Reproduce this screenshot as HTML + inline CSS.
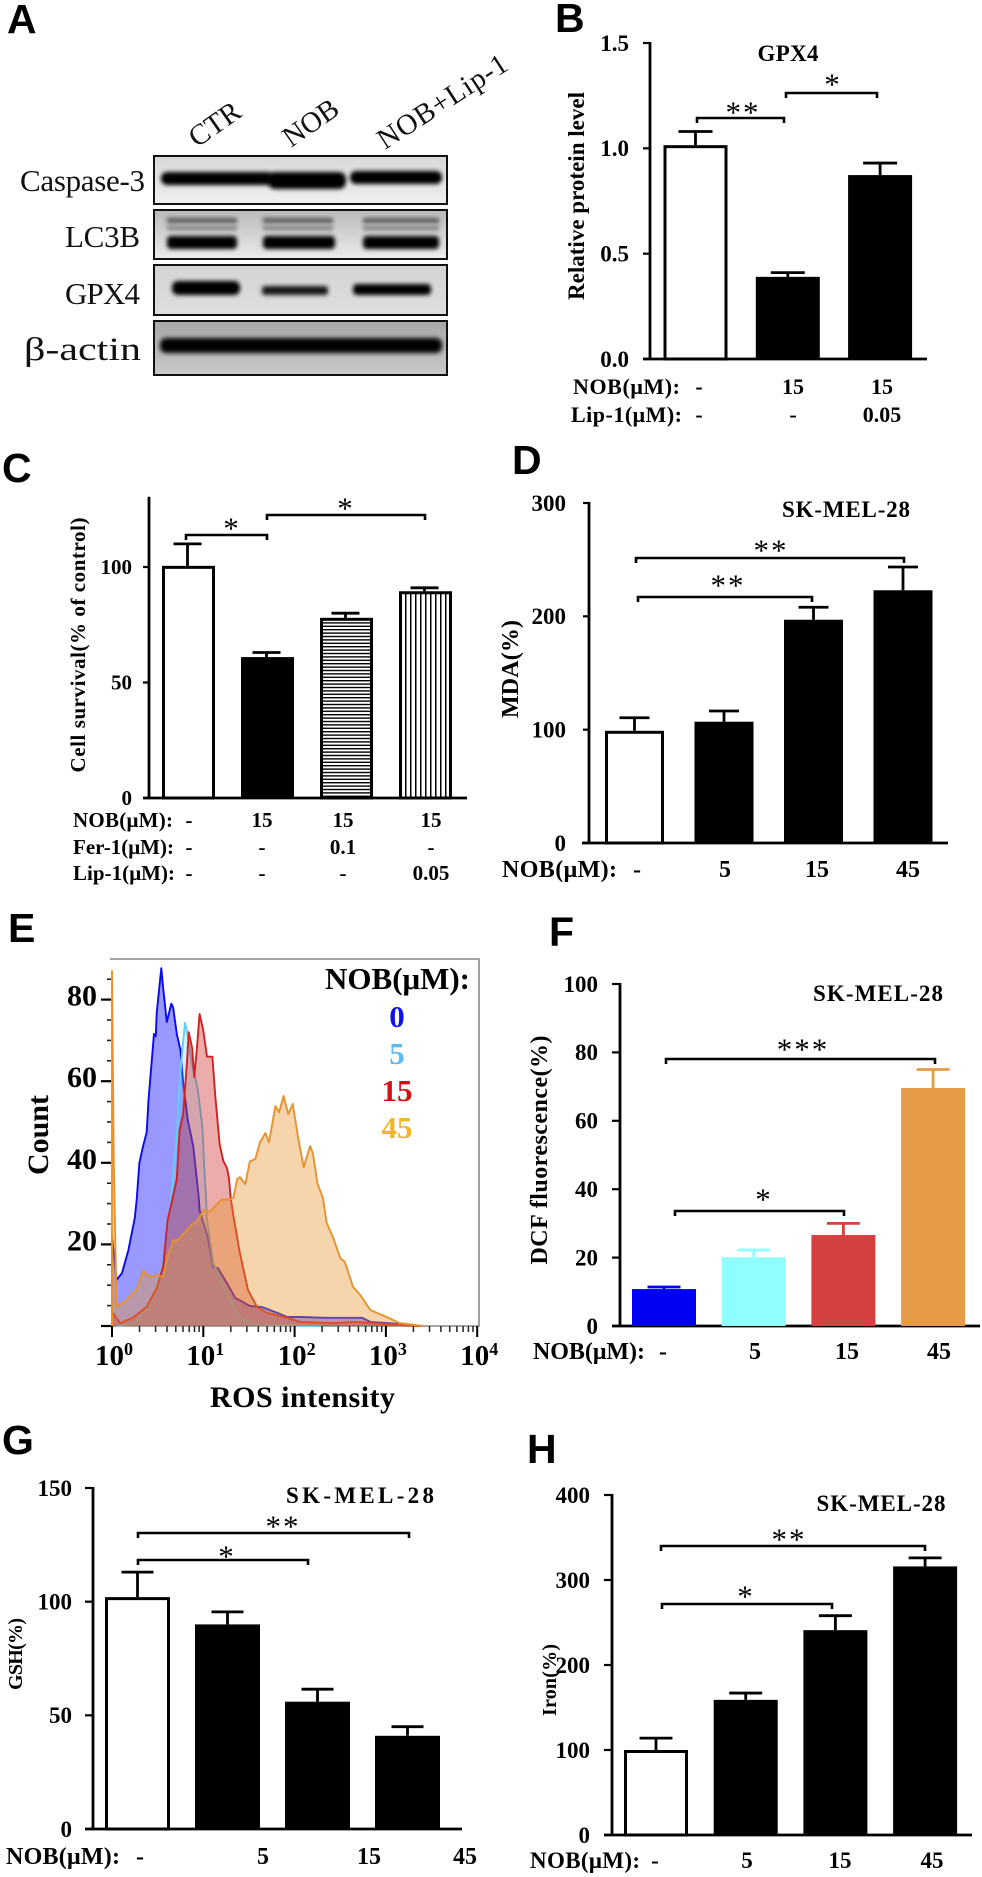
<!DOCTYPE html>
<html lang="en">
<head>
<meta charset="utf-8">
<title>NOB ferroptosis figure</title>
<style>
html,body{margin:0;padding:0;background:#fff}
svg{display:block;filter:blur(0.35px)}
text{font-family:"Liberation Serif","DejaVu Serif",serif;fill:#000;font-weight:bold}
.letter{font-family:"Liberation Sans","DejaVu Sans",sans-serif;font-size:41px;font-weight:bold}
.blot-label{font-weight:normal;font-size:31px;fill:#111}
.lane-label{font-weight:normal;font-size:29px;fill:#111}
</style>
</head>
<body>
<svg id="figure" xmlns="http://www.w3.org/2000/svg" width="982" height="1877" viewBox="0 0 982 1877">
<defs>
<filter id="blur-band" x="-20%" y="-100%" width="140%" height="300%"><feGaussianBlur stdDeviation="2.4"/></filter>
<filter id="blur-soft" x="-20%" y="-150%" width="140%" height="400%"><feGaussianBlur stdDeviation="2"/></filter>
<linearGradient id="blot1" x1="0" y1="0" x2="0" y2="1"><stop offset="0" stop-color="#d8d8d8"/><stop offset="1" stop-color="#efefef"/></linearGradient>
<linearGradient id="blot2" x1="0" y1="0" x2="0" y2="1"><stop offset="0" stop-color="#b9b9b9"/><stop offset="1" stop-color="#ececec"/></linearGradient>
<linearGradient id="blot3" x1="0" y1="0" x2="0" y2="1"><stop offset="0" stop-color="#d4d4d4"/><stop offset="1" stop-color="#dedede"/></linearGradient>
<linearGradient id="blot4" x1="0" y1="0" x2="0" y2="1"><stop offset="0" stop-color="#a8a8a8"/><stop offset="1" stop-color="#c9c9c9"/></linearGradient>
<pattern id="stripes-h" width="6" height="3.4" patternUnits="userSpaceOnUse"><rect width="6" height="3.4" fill="#fff"/><rect width="6" height="1.4" fill="#000"/></pattern>
<pattern id="stripes-v" width="5" height="6" patternUnits="userSpaceOnUse"><rect width="5" height="6" fill="#fff"/><rect width="1.5" height="6" fill="#000"/></pattern>
<clipPath id="flow-clip"><rect x="110" y="959" width="369" height="368"/></clipPath>
</defs>

<!-- Panel letters -->
<text class="letter" x="7" y="33">A</text>
<text class="letter" x="555" y="32">B</text>
<text class="letter" x="2" y="482">C</text>
<text class="letter" x="512" y="474">D</text>
<text class="letter" x="8" y="942">E</text>
<text class="letter" x="549" y="946">F</text>
<text class="letter" x="2" y="1454">G</text>
<text class="letter" x="527" y="1463">H</text>

<!-- Panel A western blot -->
<g id="panel-a">
<text class="lane-label" transform="translate(197 148) rotate(-35)">CTR</text>
<text class="lane-label" transform="translate(291 148) rotate(-35)">NOB</text>
<text class="lane-label" transform="translate(385 150) rotate(-33)" textLength="149" lengthAdjust="spacing">NOB+Lip-1</text>

<text class="blot-label" x="20" y="191" textLength="125" lengthAdjust="spacing">Caspase-3</text>
<text class="blot-label" x="65" y="247" textLength="75" lengthAdjust="spacing">LC3B</text>
<text class="blot-label" x="65" y="304" textLength="75" lengthAdjust="spacing">GPX4</text>
<text class="blot-label" x="24" y="360" style="font-size:33px" textLength="117" lengthAdjust="spacingAndGlyphs">β-actin</text>

<g>
<rect x="154" y="156" width="293" height="48" fill="url(#blot1)" stroke="#111" stroke-width="2"/>
<rect x="161" y="172" width="112" height="13" rx="6" fill="#000" filter="url(#blur-soft)"/>
<rect x="268" y="172" width="78" height="17" rx="7" fill="#000" filter="url(#blur-soft)"/>
<rect x="350" y="171" width="92" height="13" rx="6" fill="#000" filter="url(#blur-soft)"/>
</g>
<g>
<rect x="154" y="210" width="293" height="49" fill="url(#blot2)" stroke="#111" stroke-width="2"/>
<rect x="167" y="218" width="70" height="5" fill="#555" filter="url(#blur-soft)"/>
<rect x="263" y="218" width="70" height="5" fill="#555" filter="url(#blur-soft)"/>
<rect x="363" y="218" width="76" height="5" fill="#555" filter="url(#blur-soft)"/>
<rect x="167" y="226" width="70" height="4" fill="#777" filter="url(#blur-soft)"/>
<rect x="263" y="226" width="70" height="4" fill="#777" filter="url(#blur-soft)"/>
<rect x="363" y="226" width="76" height="4" fill="#777" filter="url(#blur-soft)"/>
<rect x="167" y="236" width="70" height="13" rx="4" fill="#000" filter="url(#blur-soft)"/>
<rect x="263" y="236" width="72" height="13" rx="4" fill="#000" filter="url(#blur-soft)"/>
<rect x="363" y="236" width="76" height="13" rx="4" fill="#000" filter="url(#blur-soft)"/>
</g>
<g>
<rect x="154" y="265" width="293" height="50" fill="url(#blot3)" stroke="#111" stroke-width="2"/>
<rect x="172" y="281" width="68" height="14" rx="6" fill="#000" filter="url(#blur-soft)"/>
<rect x="262" y="286" width="66" height="9" rx="3" fill="#141414" filter="url(#blur-soft)"/>
<rect x="353" y="284" width="78" height="11" rx="4" fill="#050505" filter="url(#blur-soft)"/>
</g>
<g>
<rect x="154" y="321" width="293" height="54" fill="url(#blot4)" stroke="#111" stroke-width="2"/>
<rect x="160" y="338" width="282" height="15" rx="6" fill="#000" filter="url(#blur-band)"/>
</g>
</g>

<!-- Static chart text -->
<text x="788" y="61" text-anchor="middle" font-size="23" textLength="61" lengthAdjust="spacing">GPX4</text>
<text transform="translate(584 196) rotate(-90)" text-anchor="middle" font-size="23" textLength="208" lengthAdjust="spacing">Relative protein level</text>

<text transform="translate(85 645) rotate(-90)" text-anchor="middle" font-size="21" textLength="255" lengthAdjust="spacing">Cell survival(% of control)</text>

<text x="846" y="517" text-anchor="middle" font-size="23" textLength="128" lengthAdjust="spacing">SK-MEL-28</text>
<text transform="translate(518 669) rotate(-90)" text-anchor="middle" font-size="24" textLength="98" lengthAdjust="spacing">MDA(%)</text>

<text x="878" y="1001" text-anchor="middle" font-size="23" textLength="130" lengthAdjust="spacing">SK-MEL-28</text>
<text transform="translate(547 1150) rotate(-90)" text-anchor="middle" font-size="24" textLength="229" lengthAdjust="spacing">DCF fluorescence(%)</text>

<text x="360" y="1503" text-anchor="middle" font-size="23" textLength="148" lengthAdjust="spacing">SK-MEL-28</text>
<text transform="translate(22 1654) rotate(-90)" text-anchor="middle" font-size="20" textLength="72" lengthAdjust="spacing">GSH(%)</text>

<text x="881" y="1511" text-anchor="middle" font-size="23" textLength="129" lengthAdjust="spacing">SK-MEL-28</text>
<text transform="translate(556 1680) rotate(-90)" text-anchor="middle" font-size="20" textLength="72" lengthAdjust="spacing">Iron(%)</text>

<!-- Panel E static -->
<text transform="translate(48 1135) rotate(-90)" text-anchor="middle" font-size="30" textLength="80" lengthAdjust="spacing">Count</text>
<text x="210" y="1407" font-size="30" textLength="185" lengthAdjust="spacing">ROS intensity</text>
<text x="325" y="989" font-size="31" textLength="145" lengthAdjust="spacing">NOB(μM):</text>
<text x="397" y="1027" text-anchor="middle" font-size="31" style="fill:#1010f0">0</text>
<text x="397" y="1064" text-anchor="middle" font-size="31" style="fill:#5fb8f0">5</text>
<text x="397" y="1101" text-anchor="middle" font-size="31" style="fill:#d40d12">15</text>
<text x="397" y="1138" text-anchor="middle" font-size="31" style="fill:#f0b52a">45</text>
</svg>

<script>
// ---- Chart B data ----
const bConcNob = ['-', '15', '15'];
const bConcLip = ['-', '-', '0.05'];
const bValues = [1.015, 0.39, 0.873];
const bErrors = [0.065, 0.02, 0.057];
const bTicks = [0, 0.5, 1, 1.5];
const bTickLabels = ['0.0', '0.5', '1.0', '1.5'];
// ---- Chart C data ----
const cConcNob = ['-', '15', '15', '15'];
const cConcFer = ['-', '-', '0.1', '-'];
const cConcLip = ['-', '-', '-', '0.05'];
const cValues = [100.5, 61, 78, 89.5];
const cErrors = [9.5, 2, 2, 1.5];
const cTicks = [0, 50, 100];
const cTickLabels = ['0', '50', '100'];
// ---- Chart D data ----
const dConcNob = ['-', '5', '15', '45'];
const dValues = [99, 107, 197, 223];
const dErrors = [11.5, 9.5, 11, 20.5];
const dTicks = [0, 100, 200, 300];
const dTickLabels = ['0', '100', '200', '300'];
// ---- Chart F data ----
const fConcNob = ['-', '5', '15', '45'];
const fValues = [10.8, 20.1, 26.6, 69.6];
const fErrors = [0.6, 2.1, 3.4, 5.4];
const fTicks = [0, 20, 40, 60, 80, 100];
const fTickLabels = ['0', '20', '40', '60', '80', '100'];
// ---- Chart G data ----
const gConcNob = ['-', '5', '15', '45'];
const gValues = [102, 90, 56, 41];
const gErrors = [11, 5.5, 5.5, 4];
const gTicks = [0, 50, 100, 150];
const gTickLabels = ['0', '50', '100', '150'];
// ---- Chart H data ----
const hConcNob = ['-', '5', '15', '45'];
const hValues = [100, 159, 241, 316];
const hErrors = [14, 8, 17, 10];
const hTicks = [0, 100, 200, 300, 400];
const hTickLabels = ['0', '100', '200', '300', '400'];
// ---- Chart E data (log10 intensity, count) ----
const eYTicks = [20, 40, 60, 80];
const eYTickLabels = ['20', '40', '60', '80'];
const eYMinorTicks = [5, 10, 15, 25, 30, 35, 45, 50, 55, 65, 70, 75, 85];
const eDecades = [0, 1, 2, 3, 4];
const eBlueLog = [0, .05, .11, .18, .25, .27, .30, .34, .38, .40, .45, .46, .48, .49, .54, .56, .60, .65, .67, .71, .75, .78, .83, .89, .95, .96, 1.05, 1.11, 1.16, 1.26, 1.35, 1.51, 1.65, 1.81, 1.92, 2.06, 2.35, 2.57, 2.74, 2.83, 3.15, 3.40];
const eBlueCount = [22, 11.3, 13, 18.6, 26.5, 31, 40, 44, 47.5, 55.4, 69, 71.6, 71, 76.7, 87.7, 83, 74.5, 79, 78, 71.6, 67.6, 59.5, 50.5, 44, 31.6, 28.4, 21.6, 14.4, 14.2, 10.5, 6.9, 4.9, 4.6, 3.2, 2.2, 2.2, 2, 2, 2, 1, 0.5, 0];
const eCyanLog = [.05, .23, .38, .49, .56, .64, .67, .71, .74, .77, .80, .82, .87, .91, .94, .99, 1.01, 1.03, 1.04, 1.11, 1.26, 1.40, 1.54, 1.70, 2.28];
const eCyanCount = [0, .5, 3.9, 9.6, 15.4, 30, 36.5, 46.3, 59.5, 67.6, 74.3, 72.5, 65.2, 61, 57.8, 48.8, 39, 31.4, 26, 15.4, 8, 2.2, .5, .2, 0];
const eRedLog = [0, .09, .23, .38, .49, .56, .61, .66, .71, .74, .78, .82, .84, .88, .90, .93, .96, 1.00, 1.04, 1.10, 1.13, 1.18, 1.22, 1.26, 1.28, 1.30, 1.33, 1.40, 1.49, 1.59, 1.70, 1.92, 2.06, 2.42, 2.68, 2.97, 3.37];
const eRedCount = [3.4, .7, 2, 4.7, 9.3, 14.5, 26, 31, 36, 48, 52, 64.5, 72, 68, 61, 68, 76.5, 72.4, 66, 66, 56.6, 44.4, 40.4, 38.7, 36.3, 31.4, 27, 18, 8.8, 4.6, 3.2, 2, 1, .7, 1, .5, 0];
const eOrangeLog = [0, .02, .05, .16, .23, .27, .34, .42, .49, .56, .61, .67, .72, .88, .93, 1.00, 1.07, 1.20, 1.29, 1.33, 1.37, 1.40, 1.46, 1.51, 1.57, 1.62, 1.68, 1.72, 1.79, 1.83, 1.88, 1.93, 1.98, 2.04, 2.10, 2.17, 2.20, 2.25, 2.31, 2.35, 2.42, 2.50, 2.55, 2.64, 2.72, 2.83, 3.01, 3.15, 3.40];
const eOrangeCount = [87, 40, 4.7, 6.4, 8.1, 8.8, 13.5, 12, 12.5, 12, 17, 21, 21, 25, 25.5, 28.4, 28, 31, 31, 31.4, 36, 36.5, 34.8, 40.4, 40.9, 45, 47.3, 45, 53.9, 52.4, 56.4, 51.9, 54.4, 45.8, 38.9, 44.1, 42.4, 35, 31.4, 25.3, 21.8, 16.7, 15.7, 9.6, 7.6, 3.9, 2.2, .7, 0];

const NS = 'http://www.w3.org/2000/svg';
const root = document.getElementById('figure');

function make(tag, attrs, parent) {
  const el = document.createElementNS(NS, tag);
  for (const k in attrs) el.setAttribute(k, attrs[k]);
  parent.appendChild(el);
  return el;
}
function makeGroup(name) {
  const el = make('g', {}, root);
  
  
  return el;
}
function drawAxes(g, o, yScale, ticks, labels) {
  const line = make('path', {d: 'M' + o.axisX + ' ' + (yScale(o.max) - 1) + 'V' + (o.y0 + 1) + 'M' + o.axisLeft + ' ' + o.y0 + 'H' + o.axisRight, stroke: '#000', 'stroke-width': 2.8, fill: 'none'}, g);
  
  
  ticks.forEach(function (t, i) {
    const y = yScale(t);
    const tick = make('path', {d: 'M' + o.tickLeft + ' ' + y + 'H' + o.axisX, stroke: '#000', 'stroke-width': 2.2, fill: 'none'}, g);
    
    
    const lab = make('text', {x: o.labelRight, y: y + o.tickFont * 0.34, 'text-anchor': 'end', 'font-size': o.tickFont}, g);
    lab.textContent = labels[i];
    
    
  });
}
function drawBars(g, o, yScale, values, errors) {
  values.forEach(function (v, i) {
    const x = o.x0 + i * o.step;
    const top = yScale(v);
    const fill = o.fills[i];
    const outlined = fill === '#fff' || fill.indexOf('url') === 0;
    const bar = make('rect', outlined
      ? {x: x + 1.5, y: top + 1.5, width: o.width - 3, height: o.y0 - top - 1.5, fill: fill, stroke: '#000', 'stroke-width': 3}
      : {x: x, y: top, width: o.width, height: o.y0 - top, fill: fill}, g);
    
    
    const cx = x + o.width / 2 + (o.errOffset || 0);
    const capY = yScale(v + errors[i]);
    const err = make('path', {d: 'M' + cx + ' ' + top + 'V' + capY + 'M' + (cx - o.cap / 2) + ' ' + capY + 'H' + (cx + o.cap / 2), stroke: o.errColors ? o.errColors[i] : '#000', 'stroke-width': 2.8, fill: 'none'}, g);
    
    
  });
}
function bracket(g, x1, x2, y, cx, cy, stars) {
  const b = make('path', {d: 'M' + x1 + ' ' + (y + 5) + 'V' + y + 'H' + x2 + 'V' + (y + 5), stroke: '#000', 'stroke-width': 2.6, fill: 'none'}, g);
  
  
  const fs = 31;
  const s = make('text', {x: cx, y: cy + fs * 0.47, 'text-anchor': 'middle', 'font-size': fs, 'letter-spacing': stars.length > 1 ? 2 : 0, style: 'font-weight:normal'}, g);
  s.textContent = stars;
  
  
}
function drawRow(g, label, labelX, labelLen, baseline, fs, columnX, values) {
  const t = make('text', {x: labelX, y: baseline, 'font-size': fs, textLength: labelLen, lengthAdjust: 'spacing'}, g);
  t.textContent = label;
  
  
  values.forEach(function (v, i) {
    const c = make('text', {x: columnX[i], y: baseline, 'text-anchor': 'middle', 'font-size': fs}, g);
    c.textContent = v;
    
    
  });
}
function linearY(y0, yMax, max) {
  return function (v) { return y0 - (y0 - yMax) * v / max; };
}

// Panel B
(function () {
  const g = makeGroup('chart-b-gpx4');
  const y = linearY(359, 43, 1.5);
  const o = {max: 1.5, y0: 359, axisX: 650, axisLeft: 643, axisRight: 927, tickLeft: 643, labelRight: 629, tickFont: 23, x0: 663.5, step: 92.3, width: 64, cap: 34, fills: ['#fff', '#000', '#000']};
  drawAxes(g, o, y, bTicks, bTickLabels);
  drawBars(g, o, y, bValues, bErrors);
  bracket(g, 697, 784, 118, 743, 108, '**');
  bracket(g, 786, 877, 93, 832, 80, '*');
  const cols = [699, 793, 882];
  drawRow(g, 'NOB(μM):', 573, 107, 394, 22, cols, bConcNob);
  drawRow(g, 'Lip-1(μM):', 571, 111, 422, 22, cols, bConcLip);
})();
// Panel C
(function () {
  const g = makeGroup('chart-c-survival');
  const y = linearY(798, 567, 100);
  const o = {max: 130, y0: 798, axisX: 149, axisLeft: 143, axisRight: 467, tickLeft: 143, labelRight: 132, tickFont: 21, x0: 162, step: 79, width: 53, cap: 28, errOffset: -1, fills: ['#fff', '#000', 'url(#stripes-h)', 'url(#stripes-v)']};
  drawAxes(g, o, y, cTicks, cTickLabels);
  drawBars(g, o, y, cValues, cErrors);
  bracket(g, 186, 267, 535, 231, 524, '*');
  bracket(g, 267, 425, 515, 345, 504, '*');
  const cols = [189, 262, 343, 431];
  drawRow(g, 'NOB(μM):', 73, 100, 827, 21, cols, cConcNob);
  drawRow(g, 'Fer-1(μM):', 73, 101, 854, 21, cols, cConcFer);
  drawRow(g, 'Lip-1(μM):', 73, 102, 880, 21, cols, cConcLip);
})();
// Panel D
(function () {
  const g = makeGroup('chart-d-mda');
  const y = linearY(843, 503, 300);
  const o = {max: 300, y0: 843, axisX: 589, axisLeft: 582, axisRight: 948, tickLeft: 583, labelRight: 566, tickFont: 23, x0: 605, step: 89.5, width: 59, cap: 30, fills: ['#fff', '#000', '#000', '#000']};
  drawAxes(g, o, y, dTicks, dTickLabels);
  drawBars(g, o, y, dValues, dErrors);
  bracket(g, 638, 812, 597, 728, 581, '**');
  bracket(g, 636, 904, 558, 771, 546, '**');
  drawRow(g, 'NOB(μM):', 502, 115, 877, 24, [637, 725, 817, 908], dConcNob);
})();
// Panel F
(function () {
  const g = makeGroup('chart-f-dcf');
  const y = linearY(1326, 984, 100);
  const o = {max: 100, y0: 1326, axisX: 620, axisLeft: 612, axisRight: 980, tickLeft: 612, labelRight: 598, tickFont: 23, x0: 632, step: 89.7, width: 64, cap: 33, fills: ['#0000f5', '#8ffeff', '#d64040', '#e69c47'], errColors: ['#0000f5', '#8ffeff', '#d64040', '#e69c47']};
  drawAxes(g, o, y, fTicks, fTickLabels);
  drawBars(g, o, y, fValues, fErrors);
  bracket(g, 675, 844, 1211, 763, 1195, '*');
  bracket(g, 666, 935, 1059, 803, 1045, '***');
  drawRow(g, 'NOB(μM):', 533, 112, 1359, 24, [663, 755, 847, 939], fConcNob);
})();
// Panel G
(function () {
  const g = makeGroup('chart-g-gsh');
  const y = linearY(1829, 1488, 150);
  const o = {max: 150, y0: 1829, axisX: 93, axisLeft: 85, axisRight: 462, tickLeft: 85, labelRight: 72, tickFont: 23, x0: 105, step: 90, width: 65, cap: 32, fills: ['#fff', '#000', '#000', '#000']};
  drawAxes(g, o, y, gTicks, gTickLabels);
  drawBars(g, o, y, gValues, gErrors);
  bracket(g, 138, 308, 1560, 226, 1552, '*');
  bracket(g, 138, 409, 1533, 283, 1522, '**');
  drawRow(g, 'NOB(μM):', 6, 114, 1864, 24, [140, 263, 369, 465], gConcNob);
})();
// Panel H
(function () {
  const g = makeGroup('chart-h-iron');
  const y = linearY(1835, 1495, 400);
  const o = {max: 400, y0: 1835, axisX: 612, axisLeft: 604, axisRight: 972, tickLeft: 604, labelRight: 590, tickFont: 23, x0: 624, step: 89.7, width: 64, cap: 33, fills: ['#fff', '#000', '#000', '#000']};
  drawAxes(g, o, y, hTicks, hTickLabels);
  drawBars(g, o, y, hValues, hErrors);
  bracket(g, 662, 832, 1604, 745, 1592, '*');
  bracket(g, 661, 925, 1546, 789, 1535, '**');
  drawRow(g, 'NOB(μM):', 530, 110, 1868, 23, [655, 747, 840, 932], hConcNob);
})();
// Panel E flow cytometry histogram
(function () {
  const g = makeGroup('chart-e-flow-histogram');
  const xs = function (d) { return 112 + 91.3 * d; };
  const ys = function (c) { return 1326 - 4.08 * c; };
  const frame = make('path', {d: 'M110 959H479V1326H110', stroke: '#888', 'stroke-width': 1.6, fill: 'none'}, g);
  
  
  function curve(logs, counts, fill, stroke, opacity, name) {
    let d = 'M' + xs(logs[0]) + ' 1326';
    logs.forEach(function (l, i) { d += 'L' + xs(l).toFixed(1) + ' ' + ys(counts[i]).toFixed(1); });
    d += 'L' + xs(logs[logs.length - 1]) + ' 1326';
    const p = make('path', {d: d, fill: fill, 'fill-opacity': opacity, stroke: stroke, 'stroke-width': 1.9, 'stroke-linejoin': 'round', 'clip-path': 'url(#flow-clip)'}, g);
    
    
  }
  curve(eBlueLog, eBlueCount, '#0000ff', '#0a0af0', 0.4, 'histogram-nob-0');
  curve(eCyanLog, eCyanCount, '#66ccff', '#5fd0f5', 0.25, 'histogram-nob-5');
  curve(eRedLog, eRedCount, '#cc1111', '#d42020', 0.35, 'histogram-nob-15');
  curve(eOrangeLog, eOrangeCount, '#e8952f', '#e8922f', 0.4, 'histogram-nob-45');

  const baseLine = make('path', {d: 'M101 1326H111', stroke: '#000', 'stroke-width': 2.2}, g);
  
  
  eYTicks.forEach(function (t, i) {
    const tick = make('path', {d: 'M101 ' + ys(t) + 'H111', stroke: '#000', 'stroke-width': 2.2}, g);
    
    
    const lab = make('text', {x: 97, y: ys(t) + 6, 'text-anchor': 'end', 'font-size': 30}, g);
    lab.textContent = eYTickLabels[i];
    
    
  });
  eYMinorTicks.forEach(function (t) {
    const tick = make('path', {d: 'M107 ' + ys(t) + 'H111', stroke: '#222', 'stroke-width': 1.6}, g);
    
    
  });
  eDecades.forEach(function (dec) {
    const major = make('path', {d: 'M' + xs(dec) + ' 1326V1337', stroke: '#000', 'stroke-width': 2}, g);
    
    
    const lab = make('text', {x: xs(dec) - 17, y: 1365, 'font-size': 29}, g);
    
    
    const base = make('tspan', {}, lab);
    base.textContent = '10';
    const sup = make('tspan', {dy: -10, 'font-size': 18}, lab);
    sup.textContent = String(dec);
    if (dec < 4) {
      for (let m = 2; m <= 9; m++) {
        const minor = make('path', {d: 'M' + xs(dec + Math.log10(m)).toFixed(1) + ' 1326V1332', stroke: '#222', 'stroke-width': 1.5}, g);
        
        
      }
    }
  });
})();
</script>
</body>
</html>
